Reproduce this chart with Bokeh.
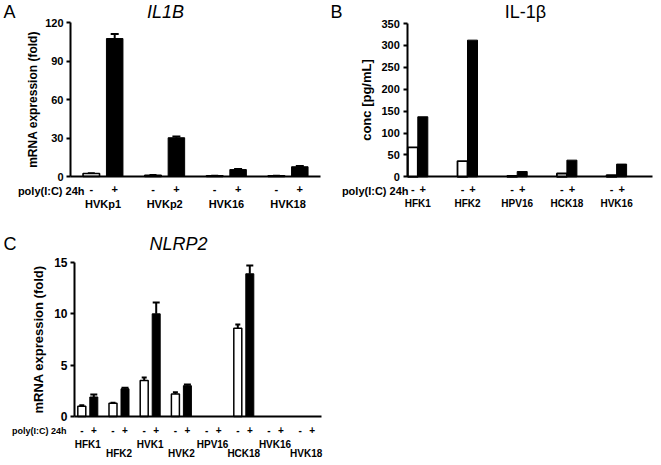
import math
import numpy as np
from bokeh.plotting import figure
from bokeh.models import FixedTicker, LinearAxis, Label, Whisker, ColumnDataSource, TeeHead, Range1d
from bokeh.layouts import column, row
from bokeh.embed import file_html
from bokeh.resources import INLINE

FONT = "Liberation Sans"
NAN = float("nan")

# ---------------- data ----------------
# Panel A: IL1B mRNA expression (fold)
A_GROUPS = ["HVKp1", "HVKp2", "HVK16", "HVK18"]
A_MINUS = [2.3, 1.0, 0.5, 0.5]
A_PLUS = [107.5, 30.2, 5.4, 7.6]
A_MINUS_ERR = [0.3, 0.2, 0.1, 0.1]
A_PLUS_ERR = [3.5, 1.0, 0.4, 0.5]
A_YTICKS = [0, 30, 60, 90, 120]

# Panel B: IL-1beta conc [pg/mL]
B_GROUPS = ["HFK1", "HFK2", "HPV16", "HCK18", "HVK16"]
B_MINUS = [67, 36, 2, 7.5, 4]
B_PLUS = [137, 312, 12, 38, 29]
B_MINUS_ERR = [NAN, NAN, NAN, NAN, NAN]
B_PLUS_ERR = [NAN, NAN, NAN, NAN, NAN]
B_YTICKS = [0, 50, 100, 150, 200, 250, 300, 350]

# Panel C: NLRP2 mRNA expression (fold)
C_GROUPS = ["HFK1", "HFK2", "HVK1", "HVK2", "HPV16", "HCK18", "HVK16", "HVK18"]
C_MINUS = [1.0, 1.3, 3.5, 2.2, NAN, 8.6, NAN, NAN]
C_PLUS = [1.9, 2.7, 10.0, 3.0, NAN, 13.9, NAN, NAN]
C_MINUS_ERR = [0.1, 0.05, 0.3, 0.15, NAN, 0.35, NAN, NAN]
C_PLUS_ERR = [0.25, 0.1, 1.1, 0.12, NAN, 0.8, NAN, NAN]
C_YTICKS = [0, 5, 10, 15]

COND_LABELS = ["-", "+"]
ROW_LABEL = "poly(I:C) 24h"

# where the first canvas lands on the page (measured)
ORIGIN = (2, 2)
W_LEFT, W_RIGHT = 328, 325
H_TOP, H_BOTTOM = 218, 239


def make_panel(groups, minus, plus, minus_err, plus_err, yticks, s):
    # geometry helpers: page pixel -> data
    def dx(px):
        return (px - s["gx0"]) / s["ppx"]

    def dy(py):
        return (s["y0p"] - py) / s["ppy"]

    cx0, cy0, cw, ch = s["canvas"]
    n = len(groups)
    xs = list(range(n))
    off = s["off_px"] / s["ppx"]
    bw = s["bw_px"] / s["ppx"]
    xm = [i - off for i in xs]
    xp = [i + off for i in xs]
    yax = dx(s["yaxis_px"])
    xend = dx(s["xend_px"])

    p = figure(width=cw, height=ch,
               x_range=Range1d(dx(cx0), dx(cx0 + cw)),
               y_range=Range1d(dy(cy0 + ch), dy(cy0)),
               output_backend="svg", toolbar_location=None,
               x_axis_location=None, y_axis_location=None,
               min_border=0)
    p.outline_line_color = None
    p.grid.visible = False
    p.background_fill_color = "white"
    p.border_fill_color = "white"

    # y axis at a fixed location
    ya = LinearAxis(ticker=FixedTicker(ticks=yticks, minor_ticks=[]), axis_label=s["ylabel"],
                    fixed_location=yax, bounds=(yticks[0], yticks[-1]))
    ya.axis_line_width = 2
    ya.axis_line_color = "black"
    ya.major_tick_line_width = 2
    ya.major_tick_out = 4
    ya.major_tick_in = 0
    ya.minor_tick_line_color = None
    ya.major_label_standoff = s["ystand"]
    ya.major_label_text_font = FONT
    ya.major_label_text_font_style = "bold"
    ya.major_label_text_font_size = s["ytick_fs"]
    ya.major_label_text_color = "black"
    ya.axis_label_text_font = FONT
    ya.axis_label_text_font_style = "bold"
    ya.axis_label_text_font_size = s["ylabel_fs"]
    ya.axis_label_text_color = "black"
    ya.axis_label_standoff = s["ylstand"]
    p.add_layout(ya, "left")

    # x axis with -/+ labels
    overrides = {}
    for v in xm:
        overrides[v] = COND_LABELS[0]
    for v in xp:
        overrides[v] = COND_LABELS[1]
    xa = LinearAxis(ticker=FixedTicker(ticks=xm + xp, minor_ticks=[]),
                    major_label_overrides=overrides, fixed_location=0, bounds=(yax, xend))
    xa.axis_line_width = 2
    xa.axis_line_color = "black"
    xa.major_tick_line_color = None
    xa.major_tick_out = 0
    xa.major_tick_in = 0
    xa.minor_tick_line_color = None
    xa.major_label_standoff = s["cstand"]
    xa.major_label_text_font = FONT
    xa.major_label_text_font_style = "bold"
    xa.major_label_text_font_size = s["cond_fs"]
    xa.major_label_text_color = "black"
    p.add_layout(xa, "below")

    # group name axes (one row, or two staggered rows)
    nrows = len(s["gstand"])
    for r in range(nrows):
        gt = [x for x in xs if x % nrows == r]
        ga = LinearAxis(ticker=FixedTicker(ticks=gt, minor_ticks=[]),
                        major_label_overrides={x: groups[x] for x in gt},
                        fixed_location=0)
        ga.axis_line_color = None
        ga.major_tick_line_color = None
        ga.major_tick_out = 0
        ga.major_tick_in = 0
        ga.minor_tick_line_color = None
        ga.major_label_standoff = s["gstand"][r]
        ga.major_label_text_font = FONT
        ga.major_label_text_font_style = "bold"
        ga.major_label_text_font_size = s["group_fs"]
        ga.major_label_text_color = "black"
        p.add_layout(ga, "below")

    # bars
    p.vbar(x=np.array(xm), top=np.array(minus, dtype=float), width=bw,
           fill_color="white", line_color="black", line_width=s["olw"])
    p.vbar(x=np.array(xp), top=np.array(plus, dtype=float), width=bw,
           fill_color="black", line_color="black", line_width=1)

    # error bars (upper only)
    for xv, vals, errs, cap in ((xm, minus, minus_err, s["cap_m"]), (xp, plus, plus_err, s["cap_p"])):
        bx, lo, up = [], [], []
        for x, v, e in zip(xv, vals, errs):
            if not (math.isnan(v) or math.isnan(e)):
                bx.append(x)
                lo.append(v)
                up.append(v + e)
        if bx:
            src = ColumnDataSource(dict(base=bx, lower=lo, upper=up))
            w = Whisker(base="base", lower="lower", upper="upper", source=src,
                        dimension="height", line_color="black", line_width=2,
                        upper_head=TeeHead(size=cap, line_color="black", line_width=2),
                        lower_head=None)
            p.add_layout(w)

    # texts: panel letter, title, row label (positions in page pixels)
    def add_text(txt, pos, size, style, align):
        p.add_layout(Label(x=dx(pos[0]), y=dy(pos[1]), text=txt, text_font=FONT,
                           text_font_size=size, text_font_style=style,
                           text_baseline="middle", text_align=align, text_color="black"))

    add_text(s["letter"], s["letter_pos"], s["title_fs"], "normal", "left")
    add_text(s["title"], s["title_pos"], s["title_fs"], s["title_style"], "center")
    add_text(ROW_LABEL, s["row_pos"], s["row_fs"], "bold", "right")
    return p


ox, oy = ORIGIN
spec_a = dict(canvas=(ox, oy, W_LEFT, H_TOP), gx0=104.5, ppx=61.7, y0p=178, ppy=154 / 120,
              yaxis_px=72, xend_px=322, off_px=11.7, bw_px=16.5, olw=1.6, cap_m=7, cap_p=8,
              ylabel="mRNA expression (fold)", ytick_fs="11px", ylabel_fs="12px",
              ystand=3, ylstand=2, cstand=8, cond_fs="11px", gstand=[21],
              group_fs="11px", letter="A", letter_pos=(5, 13), title="IL1B",
              title_style="italic", title_pos=(167, 13), title_fs="18px",
              row_pos=(86, 192), row_fs="11px")

spec_b = dict(canvas=(ox + W_LEFT, oy, W_RIGHT, H_TOP), gx0=419.3, ppx=49.7, y0p=178.3,
              ppy=153.3 / 350, yaxis_px=409.3, xend_px=654, off_px=5, bw_px=10, olw=1.8,
              cap_m=6, cap_p=6,
              ylabel="conc [pg/mL]", ytick_fs="11px", ylabel_fs="13px",
              ystand=4, ylstand=4, cstand=8, cond_fs="11px", gstand=[21],
              group_fs="10px", letter="B", letter_pos=(332, 13), title="IL-1\u03b2",
              title_style="normal", title_pos=(527, 13), title_fs="18px",
              row_pos=(410, 192), row_fs="11px")

spec_c = dict(canvas=(ox, oy + H_TOP, W_LEFT, H_BOTTOM), gx0=89.3, ppx=31.2, y0p=418,
              ppy=154 / 15, yaxis_px=76, xend_px=323, off_px=6, bw_px=8, olw=1.5,
              cap_m=5, cap_p=7,
              ylabel="mRNA expression (fold)", ytick_fs="12px", ylabel_fs="13px",
              ystand=3, ylstand=5, cstand=9, cond_fs="10px", gstand=[22, 31],
              group_fs="10px", letter="C", letter_pos=(5, 245), title="NLRP2",
              title_style="italic", title_pos=(180, 245), title_fs="18px",
              row_pos=(68, 432), row_fs="9px")

pa = make_panel(A_GROUPS, A_MINUS, A_PLUS, A_MINUS_ERR, A_PLUS_ERR, A_YTICKS, spec_a)
pb = make_panel(B_GROUPS, B_MINUS, B_PLUS, B_MINUS_ERR, B_PLUS_ERR, B_YTICKS, spec_b)
pc = make_panel(C_GROUPS, C_MINUS, C_PLUS, C_MINUS_ERR, C_PLUS_ERR, C_YTICKS, spec_c)

layout = column(row(pa, pb), pc)
open("out.html", "w").write(file_html(layout, INLINE))
